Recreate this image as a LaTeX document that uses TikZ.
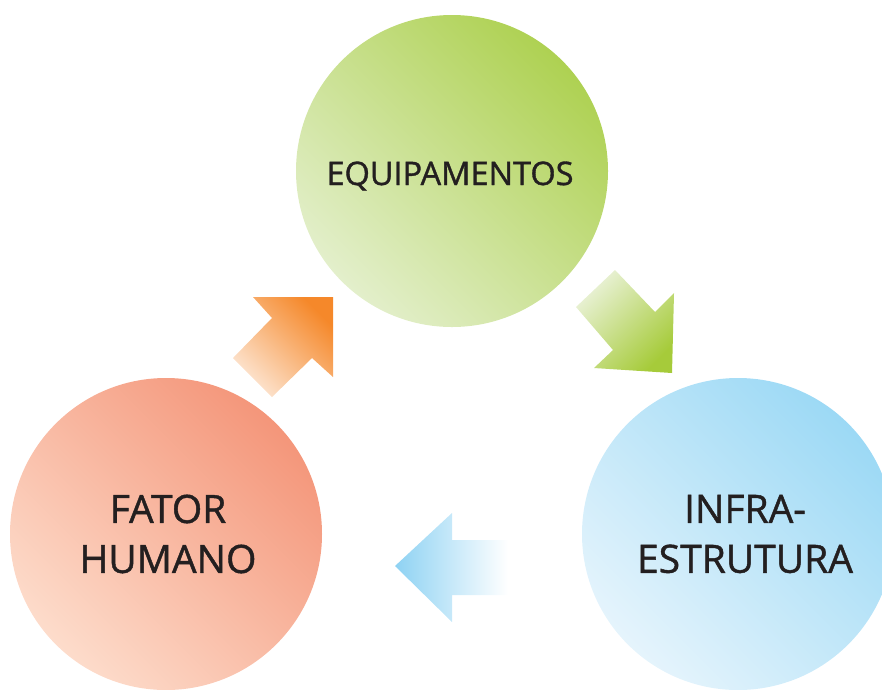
\documentclass[tikz,border=0pt]{standalone}
\usepackage{fontspec}
\setmainfont{Open Sans}
\newfontfamily\labelfont{Open Sans}[FakeBold=1.1]
\definecolor{textgray}{HTML}{231F20}
\definecolor{eqdark}{HTML}{AED152}
\definecolor{eqlight}{HTML}{E3EFCB}
\definecolor{fhdark}{HTML}{F4967A}
\definecolor{fhlight}{HTML}{FDDCCB}
\definecolor{indark}{HTML}{9CD9F5}
\definecolor{inlight}{HTML}{E5F4FC}
\definecolor{ardorange}{HTML}{F5882A}
\definecolor{arlorange}{HTML}{FDE6D3}
\definecolor{ardgreen}{HTML}{A6CB3A}
\definecolor{arlgreen}{HTML}{EAF2D8}
\definecolor{ardblue}{HTML}{8ED2F3}
\begin{document}
\begin{tikzpicture}[x=1pt, y=-1pt,
bubble/.style={circle, minimum size=312pt, inner sep=0pt},
eqbubble/.style={bubble, top color=eqdark, bottom color=eqlight, shading angle=-45},
fhbubble/.style={bubble, top color=fhdark, bottom color=fhlight, shading angle=-45},
inbubble/.style={bubble, top color=indark, bottom color=inlight, shading angle=-45},
caption/.style={align=center, text=textgray, inner sep=0pt},
bigtext/.style={caption, font=\labelfont\fontsize{39}{50}\selectfont},
smalltext/.style={caption, font=\labelfont\fontsize{32.5}{37}\selectfont}]
\useasboundingbox (0,0) rectangle (882,689);
\clip (0,0) rectangle (882,689);
% circles
\node[eqbubble] (equip) at (452,171) {};
\node[fhbubble] (fator) at (166,534) {};
\node[inbubble] (infra) at (738,534) {};
\node[smalltext] (equiptext) at ([xshift=-2pt,yshift=-5pt]equip.center) {EQUIPAMENTOS};
\node[bigtext] (fatortext) at ([xshift=2pt]fator.center) {FATOR\\HUMANO};
\node[bigtext] (infratext) at ([xshift=7pt]infra.center) {INFRA-\\ESTRUTURA};
% arrows
\path[top color=ardorange, bottom color=arlorange, shading angle=-45]
    (333,297) -- (333,377) -- (312,358) -- (272,397) -- (233,358) -- (272,318) -- (253,297) -- cycle;
\path[top color=arlgreen, bottom color=ardgreen, shading angle=45]
    (672,373) -- (594,368) -- (613,350) -- (576,307) -- (615,270) -- (655,312) -- (674,293) -- cycle;
\path[left color=ardblue, right color=white]
    (395,566) -- (452,513) -- (452,540) -- (508,540) -- (508,595) -- (452,595) -- (452,622) -- cycle;
\end{tikzpicture}
\end{document}
